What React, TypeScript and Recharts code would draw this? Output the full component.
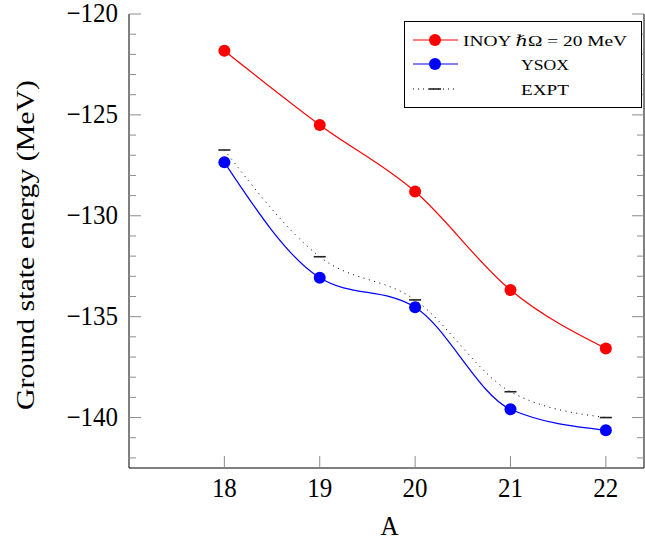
import React from "react";
import { ComposedChart, Line, XAxis, YAxis, Legend } from "recharts";

const A_VALUES = [18, 19, 20, 21, 22];
const INOY = [-121.82, -125.5, -128.8, -133.68, -136.58];
const YSOX = [-127.35, -133.07, -134.53, -139.59, -140.63];
const EXPT = [-126.74, -132.03, -134.17, -138.72, -140.0];

const X_TICKS = [18, 19, 20, 21, 22];
const Y_TICKS = [
  -142, -141, -140, -139, -138, -137, -136, -135, -134, -133, -132, -131, -130,
  -129, -128, -127, -126, -125, -124, -123, -122, -121, -120,
];
const X_DOMAIN = [17, 22.4];
const Y_DOMAIN = [-142.5, -120];

const LEGEND_LABELS = ["INOY \u210FΩ = 20 MeV", "YSOX", "EXPT"];
const LEGEND_WIDTHS = [164, 48, 48];
const X_LABEL = "A";
const Y_LABEL = "Ground state energy (MeV)";

const data = A_VALUES.map((a, i) => ({ A: a, inoy: INOY[i], ysox: YSOX[i], expt: EXPT[i] }));

const W = 645;
const H = 543;
const PLOT_LEFT = 129;
const PLOT_RIGHT = 644;
const PLOT_TOP = 14;
const PLOT_BOTTOM = 468;
const FONT = '"Liberation Serif", "DejaVu Serif", serif';
const TICK_GRAY = "#8c8c8c";
const textStyle = { fontFamily: FONT };
const STRETCH = 1.08;

const fmt = (v: number) => String(v).replace("-", "\u2212");
const isMajor = (v: number) => Math.abs(v % 5) < 1e-9;

const BottomTick = (props: any) => {
  const { x, payload } = props;
  const by = 497;
  return (
    <g>
      <line x1={x} x2={x} y1={PLOT_BOTTOM} y2={PLOT_BOTTOM - 12} stroke={TICK_GRAY} strokeWidth={1} />
      <text
        x={x}
        y={by}
        textAnchor="middle"
        style={textStyle}
        fontSize={25}
        fill="#000"
        transform={`translate(0 ${by * (1 - STRETCH)}) scale(1 ${STRETCH})`}
      >
        {fmt(payload.value)}
      </text>
    </g>
  );
};

const TopTick = (props: any) => {
  const { x } = props;
  return <line x1={x} x2={x} y1={PLOT_TOP} y2={PLOT_TOP + 12} stroke={TICK_GRAY} strokeWidth={1} />;
};

const LeftTick = (props: any) => {
  const { y, payload } = props;
  const major = isMajor(payload.value);
  const by = y + 8;
  return (
    <g>
      <line x1={PLOT_LEFT} x2={PLOT_LEFT + (major ? 12 : 7)} y1={y} y2={y} stroke={TICK_GRAY} strokeWidth={1} />
      {major ? (
        <text
          x={118}
          y={by}
          textAnchor="end"
          style={textStyle}
          fontSize={25}
          fill="#000"
          transform={`translate(0 ${by * (1 - STRETCH)}) scale(1 ${STRETCH})`}
        >
          {fmt(payload.value)}
        </text>
      ) : null}
    </g>
  );
};

const RightTick = (props: any) => {
  const { y, payload } = props;
  const major = isMajor(payload.value);
  return <line x1={PLOT_RIGHT} x2={PLOT_RIGHT - (major ? 12 : 7)} y1={y} y2={y} stroke={TICK_GRAY} strokeWidth={1} />;
};

const ExptDot = (props: any) => {
  const { cx, cy } = props;
  if (cx == null || cy == null) return null;
  return <line x1={cx - 6} x2={cx + 6} y1={cy} y2={cy} stroke="#222" strokeWidth={1.6} />;
};

const LegendBox = () => {
  const rows = [19, 43, 68];
  return (
    <svg width={239} height={88} style={{ display: "block" }}>
      <rect x={0.5} y={0.5} width={237} height={86} fill="#fff" stroke="#000" strokeWidth={1} />
      <line x1={9} x2={54} y1={rows[0]} y2={rows[0]} stroke="#ff0000" strokeWidth={1.2} />
      <circle cx={31} cy={rows[0]} r={6} fill="#ff0000" />
      <line x1={9} x2={54} y1={rows[1]} y2={rows[1]} stroke="#0000ff" strokeWidth={1.2} />
      <circle cx={31} cy={rows[1]} r={6} fill="#0000ff" />
      <line x1={9} x2={54} y1={rows[2]} y2={rows[2]} stroke="#000" strokeWidth={1} strokeDasharray="1 4" />
      <line x1={25} x2={37} y1={rows[2]} y2={rows[2]} stroke="#222" strokeWidth={1.6} />
      {LEGEND_LABELS.map((t, i) => (
        <text
          key={t}
          x={141}
          y={rows[i] + 5.5}
          textAnchor="middle"
          style={textStyle}
          fontSize={15}
          fill="#000"
          textLength={LEGEND_WIDTHS[i]}
          lengthAdjust="spacingAndGlyphs"
        >
          {t}
        </text>
      ))}
    </svg>
  );
};

export default function App() {
  return (
    <div style={{ position: "absolute", left: 0, top: 0, width: W, height: H, overflow: "hidden", background: "#fff" }}>
      <ComposedChart width={W} height={H} data={data} margin={{ top: PLOT_TOP, right: 0, bottom: 0, left: 0 }}>
        <XAxis
          xAxisId={0}
          dataKey="A"
          type="number"
          domain={X_DOMAIN}
          ticks={X_TICKS}
          height={H - PLOT_BOTTOM}
          tickLine={false}
          axisLine={{ stroke: "#000", strokeWidth: 1 }}
          tick={<BottomTick />}
          allowDataOverflow
          label={() => (
            <text
              x={(PLOT_LEFT + PLOT_RIGHT) / 2 + 3}
              y={535}
              textAnchor="middle"
              style={textStyle}
              fontSize={25}
              fill="#000"
              transform={`translate(0 ${535 * (1 - STRETCH)}) scale(1 ${STRETCH})`}
            >
              {X_LABEL}
            </text>
          )}
        />
        <XAxis
          xAxisId="top"
          orientation="top"
          dataKey="A"
          type="number"
          domain={X_DOMAIN}
          ticks={X_TICKS}
          height={0}
          tickLine={false}
          axisLine={{ stroke: "#000", strokeWidth: 1 }}
          tick={<TopTick />}
          allowDataOverflow
        />
        <YAxis
          yAxisId={0}
          type="number"
          domain={Y_DOMAIN}
          ticks={Y_TICKS}
          width={PLOT_LEFT}
          tickLine={false}
          axisLine={{ stroke: "#000", strokeWidth: 1 }}
          tick={<LeftTick />}
          interval={0}
          allowDataOverflow
          label={() => (
            <text
              x={34}
              y={410}
              transform="rotate(-90 34 410)"
              textAnchor="start"
              style={textStyle}
              fontSize={26}
              fill="#000"
              textLength={330}
              lengthAdjust="spacingAndGlyphs"
            >
              {Y_LABEL}
            </text>
          )}
        />
        <YAxis
          yAxisId="right"
          orientation="right"
          type="number"
          domain={Y_DOMAIN}
          ticks={Y_TICKS}
          width={W - PLOT_RIGHT}
          tickLine={false}
          axisLine={{ stroke: "#000", strokeWidth: 1 }}
          tick={<RightTick />}
          interval={0}
          allowDataOverflow
        />
        <Line
          dataKey="expt"
          type="monotone"
          stroke="#000"
          strokeWidth={1}
          strokeDasharray="1 4.5"
          dot={<ExptDot />}
          activeDot={false}
          isAnimationActive={false}
          name={LEGEND_LABELS[2]}
        />
        <Line
          dataKey="ysox"
          type="monotone"
          stroke="#0000ff"
          strokeWidth={1.2}
          dot={{ r: 6, fill: "#0000ff", stroke: "none" }}
          activeDot={false}
          isAnimationActive={false}
          name={LEGEND_LABELS[1]}
        />
        <Line
          dataKey="inoy"
          type="monotone"
          stroke="#ff0000"
          strokeWidth={1.2}
          dot={{ r: 6, fill: "#ff0000", stroke: "none" }}
          activeDot={false}
          isAnimationActive={false}
          name={LEGEND_LABELS[0]}
        />
        <Legend
          layout="vertical"
          align="center"
          verticalAlign="middle"
          content={() => <LegendBox />}
          wrapperStyle={{ position: "absolute", left: 404, top: 21, width: 239, height: 88, margin: 0, padding: 0 }}
        />
      </ComposedChart>
    </div>
  );
}
